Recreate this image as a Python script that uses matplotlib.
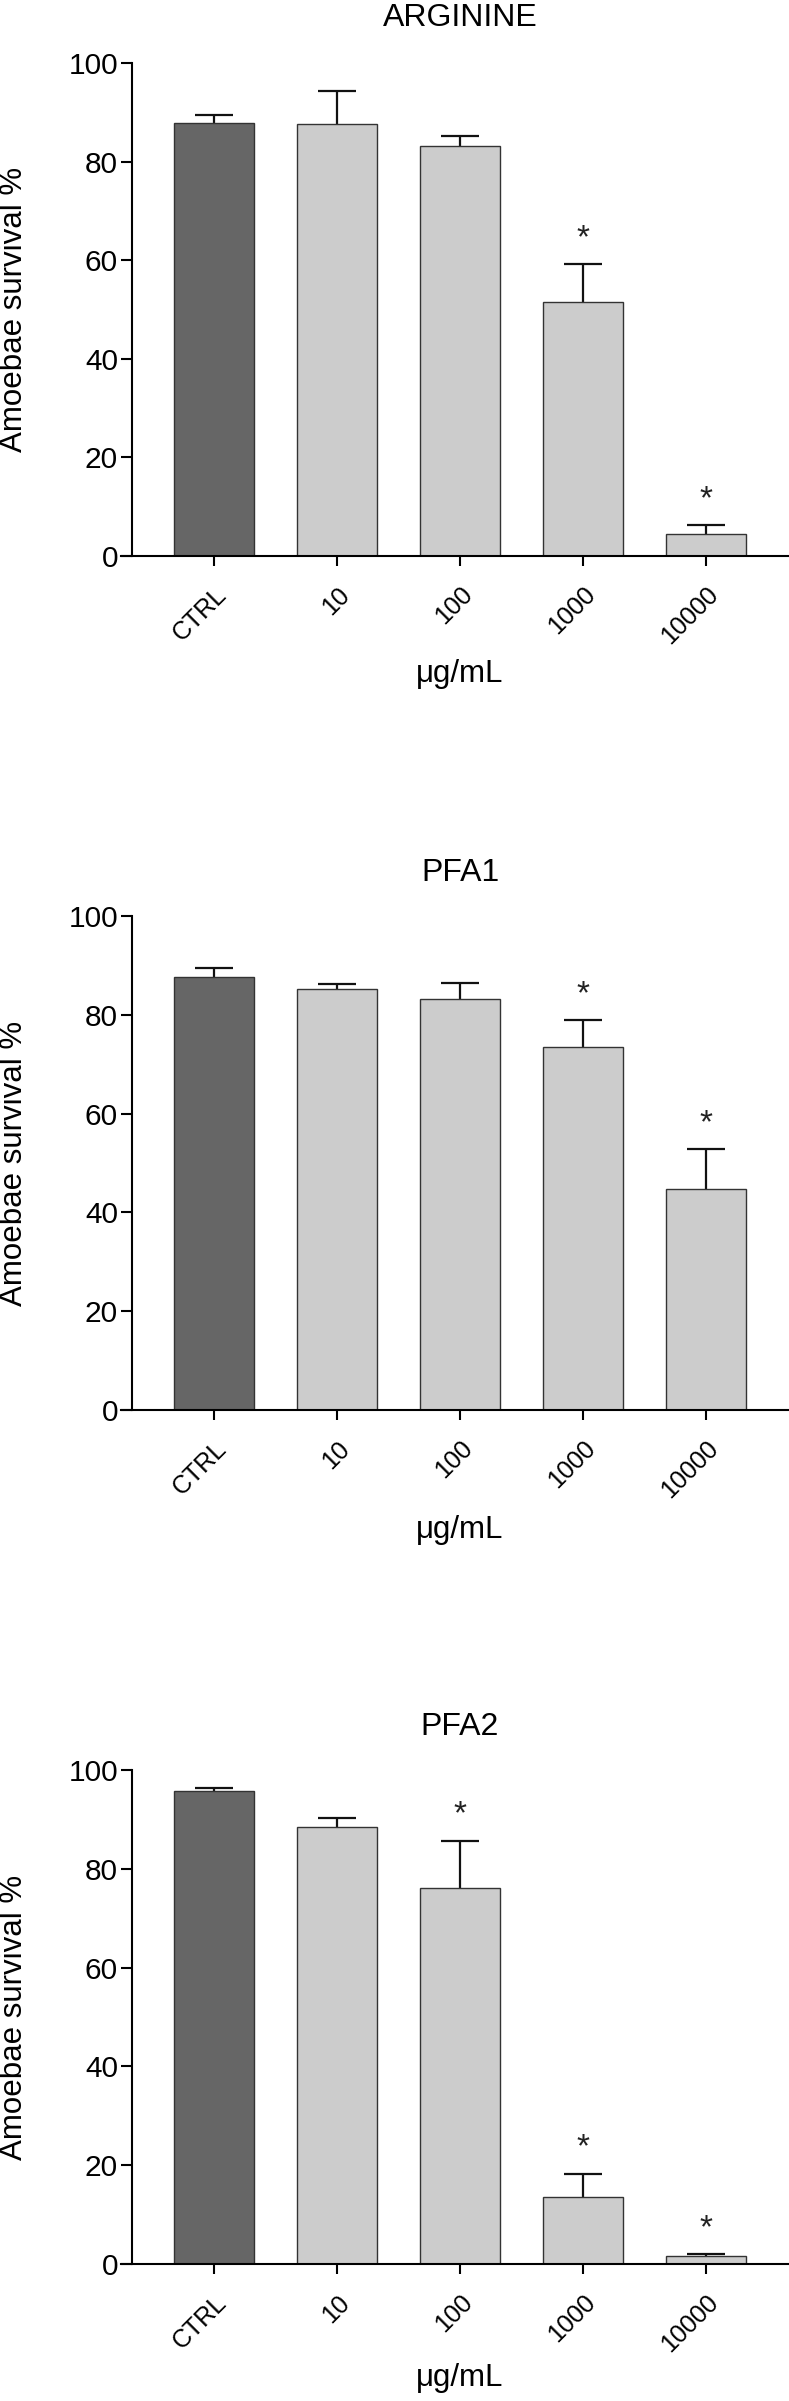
import numpy as np
import matplotlib
matplotlib.use("Agg")
import matplotlib.pyplot as plt

plt.rcParams['font.family'] = ['Liberation Sans', 'DejaVu Sans']

groups = ["CTRL", "10", "100", "1000", "10000"]
titles = ["ARGININE", "PFA1", "PFA2"]

arginine_mean = [87.8, 87.7, 83.2, 51.5, 4.5]
arginine_err = [1.6, 6.6, 1.9, 7.8, 1.8]
arginine_sig = [False, False, False, True, True]

pfa1_mean = [87.6, 85.2, 83.2, 73.5, 44.7]
pfa1_err = [1.8, 1.1, 3.3, 5.4, 8.2]
pfa1_sig = [False, False, False, True, True]

pfa2_mean = [95.7, 88.5, 76.2, 13.6, 1.6]
pfa2_err = [0.7, 1.8, 9.5, 4.7, 0.4]
pfa2_sig = [False, False, True, True, True]

panels = [
    (arginine_mean, arginine_err, arginine_sig),
    (pfa1_mean, pfa1_err, pfa1_sig),
    (pfa2_mean, pfa2_err, pfa2_sig),
]

W, H = 789, 2401
fig = plt.figure(figsize=(W / 100, H / 100), dpi=100)

# pixel layout of each panel: (axes top, axes bottom, title y, xlabel y)
layout = [(63, 556, 18, 674), (916, 1410, 873, 1530), (1770, 2264, 1727, 2378)]
left_px, right_px = 121, 788

bar_colors = ["#666666"] + ["#cccccc"] * 4
x = np.arange(len(groups))
cap = 0.155

for (means, errs, sig), (top, bot, ty, xly), title in zip(panels, layout, titles):
    means = np.array(means)
    errs = np.array(errs)
    ax = fig.add_axes([left_px / W, 1 - bot / H, (right_px - left_px) / W, (bot - top) / H])
    ax.bar(x, means, width=0.65, color=bar_colors, edgecolor="#333333", linewidth=1.0, zorder=2)
    # upper error bars only
    ax.vlines(x, means, means + errs, colors="#111111", linewidth=1.6, zorder=1)
    ax.hlines(means + errs, x - cap, x + cap, colors="#111111", linewidth=1.6, zorder=1)
    # significance stars
    for xi, m, e, s in zip(x, means, errs, sig):
        if s:
            ax.text(xi, m + e + 2.0, "*", ha="center", va="bottom", fontsize=24, color="#222222")

    ax.set_xlim(-0.756, 4.667)
    ax.set_ylim(0, 100)
    ax.set_yticks([0, 20, 40, 60, 80, 100])
    ax.set_xticks(x)
    ax.set_xticklabels(groups, rotation=45, ha="right", rotation_mode="anchor")
    ax.spines["top"].set_visible(False)
    ax.spines["right"].set_visible(False)
    ax.spines["left"].set_position(("data", -0.667))
    for sp in ("left", "bottom"):
        ax.spines[sp].set_linewidth(1.5)
    ax.tick_params(axis="y", direction="out", length=8, width=1.5, labelsize=21.5, pad=2)
    ax.tick_params(axis="x", direction="out", length=7, width=1.5, labelsize=18, pad=12)

    fig.text(460 / W, 1 - ty / H, title, ha="center", va="center", fontsize=23)
    fig.text(460 / W, 1 - xly / H, "\u03bcg/mL", ha="center", va="center", fontsize=22.5)
    fig.text(14.5 / W, 1 - ((top + bot) / 2) / H, "Amoebae survival %", rotation=90,
             ha="center", va="center", fontsize=22.5)

fig.savefig("out.png", dpi=100)
